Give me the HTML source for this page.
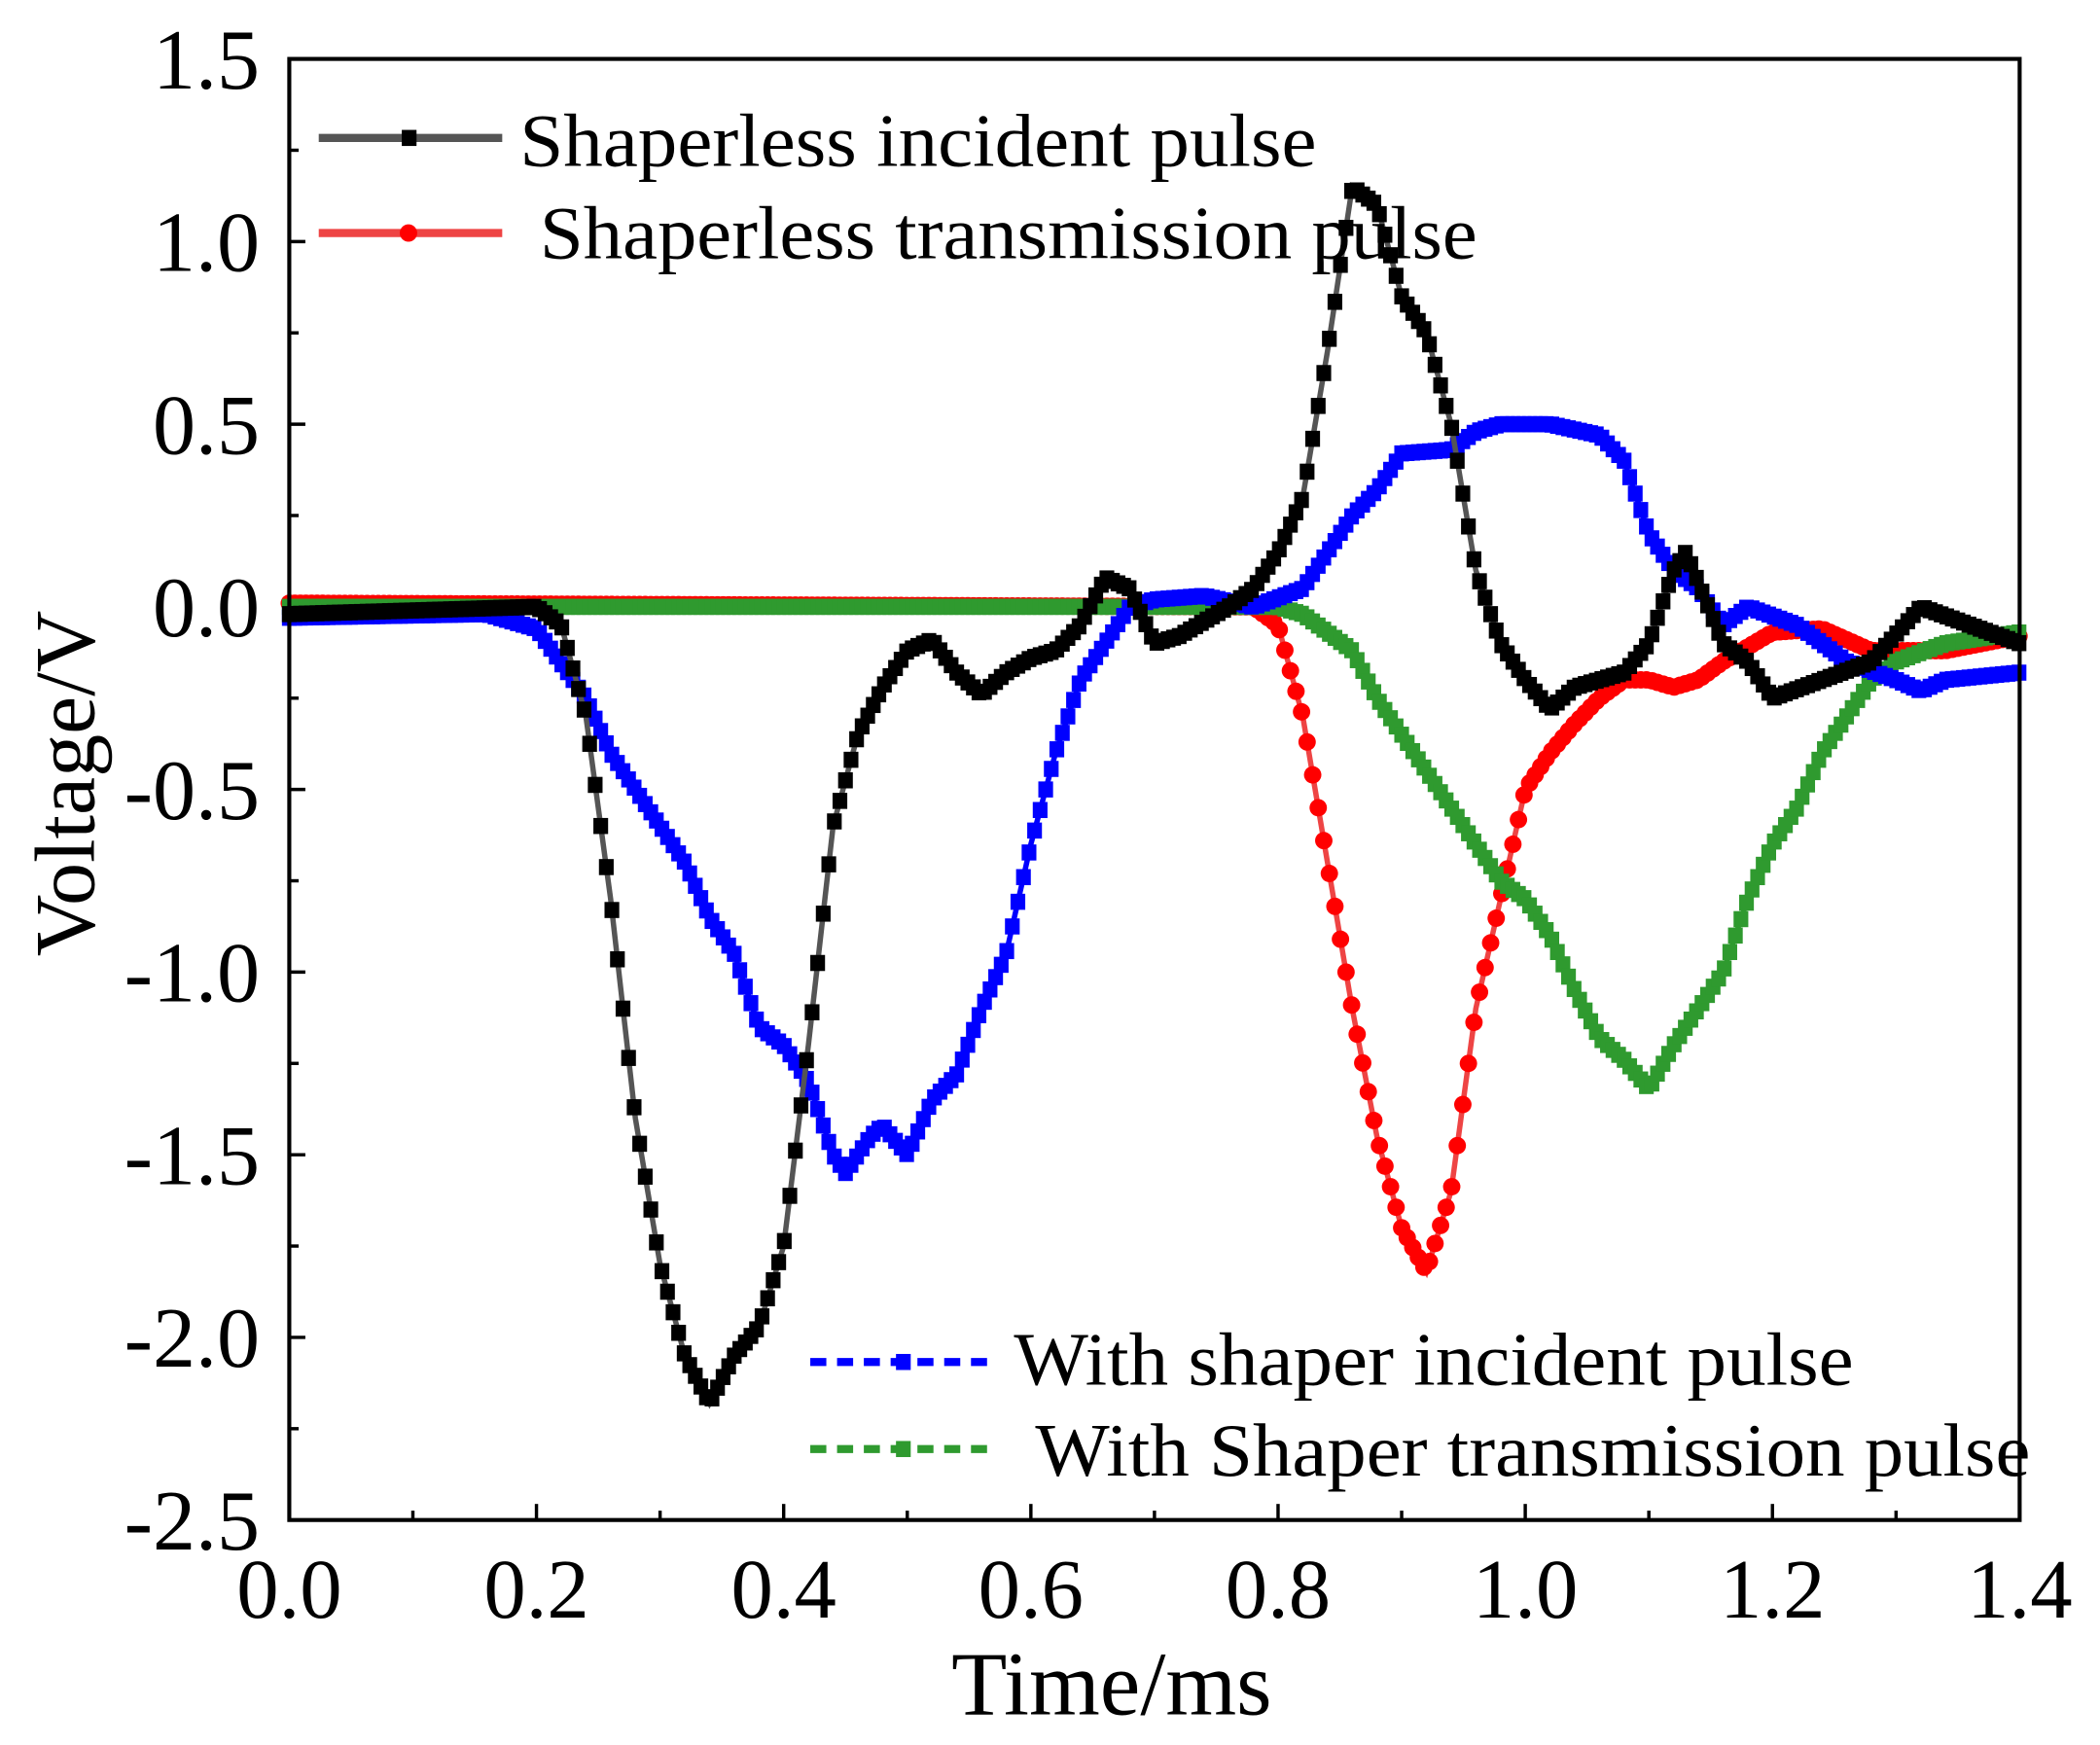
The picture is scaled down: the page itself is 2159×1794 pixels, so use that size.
<!DOCTYPE html>
<html><head><meta charset="utf-8"><style>
html,body{margin:0;padding:0;background:#fff;}
svg{display:block;}
text{font-family:"Liberation Serif","Times New Roman",serif;fill:#000;}
</style></head><body>
<svg id="chart" width="2159" height="1794" viewBox="0 0 1568 1303" preserveAspectRatio="none" xmlns="http://www.w3.org/2000/svg">
<g id="ticks"></g>
<g id="series"></g>
<rect x="216" y="44" width="1292" height="1091" fill="none" stroke="#000" stroke-width="3"/>
<text x="830" y="1280" font-size="68" text-anchor="middle">Time/ms</text>
<text x="0" y="0" font-size="64" text-anchor="middle" transform="translate(70,585) rotate(-90)">Voltage/V</text>
<g>
 <g>
  <line x1="238" y1="103" x2="375" y2="103" stroke="#555" stroke-width="6"/>
  <rect x="300" y="97" width="11" height="12" fill="#000"/>
  <text x="388" y="124" font-size="56" textLength="595" lengthAdjust="spacingAndGlyphs">Shaperless incident pulse</text>
 </g>
 <g>
  <line x1="238" y1="174" x2="375" y2="174" stroke="#ee4444" stroke-width="6"/>
  <circle cx="305" cy="174" r="6.5" fill="#ff0000"/>
  <text x="403" y="193" font-size="56" textLength="700" lengthAdjust="spacingAndGlyphs">Shaperless transmission pulse</text>
 </g>
</g>
<g>
 <g>
  <line x1="605" y1="1017" x2="745" y2="1017" stroke="#0000ff" stroke-width="6" stroke-dasharray="12,8"/>
  <rect x="669" y="1011" width="11" height="12" fill="#0000ff"/>
  <text x="757" y="1034" font-size="56" textLength="627" lengthAdjust="spacingAndGlyphs">With shaper incident pulse</text>
 </g>
 <g>
  <line x1="605" y1="1082" x2="745" y2="1082" stroke="#2f9a2f" stroke-width="6" stroke-dasharray="12,8"/>
  <rect x="669" y="1076" width="11" height="12" fill="#2f9a2f"/>
  <text x="773" y="1102" font-size="56" textLength="743" lengthAdjust="spacingAndGlyphs">With Shaper transmission pulse</text>
 </g>
</g>
</svg>
<script>
const xTicks=[0.0,0.2,0.4,0.6,0.8,1.0,1.2,1.4];
const xTickLabels=["0.0","0.2","0.4","0.6","0.8","1.0","1.2","1.4"];
const yTicks=[1.5,1.0,0.5,0.0,-0.5,-1.0,-1.5,-2.0,-2.5];
const yTickLabels=["1.5","1.0","0.5","0.0","-0.5","-1.0","-1.5","-2.0","-2.5"];
const blackT=[0,0.1,0.2,0.22,0.24,0.26,0.28,0.30,0.32,0.34,0.36,0.38,0.40,0.42,0.44,0.46,0.48,0.50,0.52,0.54,0.56,0.58,0.60,0.62,0.64,0.66,0.68,0.70,0.72,0.74,0.76,0.78,0.80,0.82,0.84,0.86,0.88,0.90,0.92,0.94,0.96,0.98,1.00,1.02,1.04,1.06,1.08,1.10,1.12,1.13,1.16,1.18,1.20,1.24,1.28,1.32,1.36,1.4];
const blackV=[-0.02,-0.01,0,-0.05,-0.3,-0.8,-1.4,-1.8,-2.05,-2.18,-2.05,-1.97,-1.75,-1.2,-0.6,-0.35,-0.22,-0.12,-0.09,-0.18,-0.24,-0.18,-0.14,-0.12,-0.05,0.08,0.05,-0.1,-0.08,-0.04,0.0,0.05,0.15,0.3,0.7,1.15,1.1,0.85,0.75,0.5,0.1,-0.1,-0.2,-0.28,-0.22,-0.2,-0.18,-0.1,0.1,0.15,-0.1,-0.15,-0.25,-0.2,-0.15,0.0,-0.05,-0.1];
const blueT=[0,0.16,0.2,0.24,0.26,0.28,0.30,0.32,0.34,0.36,0.38,0.40,0.42,0.44,0.45,0.47,0.48,0.50,0.52,0.54,0.56,0.58,0.60,0.62,0.64,0.66,0.68,0.70,0.74,0.78,0.82,0.86,0.88,0.90,0.94,0.96,0.98,1.02,1.06,1.08,1.10,1.12,1.14,1.16,1.18,1.22,1.26,1.30,1.32,1.34,1.4];
const blueV=[-0.03,-0.02,-0.06,-0.25,-0.4,-0.5,-0.6,-0.7,-0.85,-0.95,-1.15,-1.2,-1.3,-1.5,-1.55,-1.45,-1.42,-1.5,-1.35,-1.28,-1.1,-0.95,-0.65,-0.4,-0.2,-0.1,0.0,0.02,0.03,0.0,0.05,0.25,0.32,0.42,0.43,0.48,0.5,0.5,0.47,0.4,0.2,0.1,0.05,-0.05,0.0,-0.05,-0.15,-0.2,-0.23,-0.2,-0.18];
const redT=[0,0.78,0.80,0.82,0.84,0.86,0.88,0.90,0.92,0.94,0.96,0.98,1.00,1.02,1.04,1.06,1.08,1.10,1.12,1.14,1.16,1.20,1.24,1.28,1.34,1.4];
const redV=[0.01,0.0,-0.05,-0.3,-0.7,-1.1,-1.45,-1.7,-1.82,-1.6,-1.1,-0.8,-0.5,-0.4,-0.32,-0.25,-0.2,-0.2,-0.22,-0.2,-0.15,-0.07,-0.06,-0.12,-0.12,-0.08];
const greenT=[0,0.8,0.82,0.86,0.88,0.90,0.92,0.94,0.96,0.98,1.00,1.02,1.04,1.06,1.08,1.10,1.12,1.14,1.16,1.18,1.20,1.22,1.24,1.26,1.28,1.30,1.34,1.4];
const greenV=[0.0,0.0,-0.02,-0.12,-0.25,-0.35,-0.45,-0.55,-0.65,-0.75,-0.8,-0.9,-1.05,-1.18,-1.24,-1.32,-1.2,-1.1,-1.0,-0.8,-0.65,-0.55,-0.4,-0.3,-0.2,-0.15,-0.1,-0.07];

const NS="http://www.w3.org/2000/svg";
const X0=216,X1=1508,Y0=44,Y1=1135;
function xs(t){return X0+(t-0)/(1.4-0)*(X1-X0);}
function ys(v){return Y0+(1.5-v)/(1.5+2.5)*(Y1-Y0);}
const ticks=document.getElementById('ticks');
function mk(tag,attrs,parent){const e=document.createElementNS(NS,tag);for(const k in attrs)e.setAttribute(k,attrs[k]);parent.appendChild(e);return e;}
for(let i=0;i<xTicks.length;i++){
  const x=xs(xTicks[i]);
  const tk=mk('line',{x1:x,y1:Y1,x2:x,y2:Y1-12,stroke:'#000','stroke-width':2.5},ticks);
  
  
  const lb=mk('text',{x:x,y:1208,'font-size':63,'text-anchor':'middle'},ticks);
  lb.textContent=xTickLabels[i];
  
  
  if(i<xTicks.length-1){
    const xm=xs(xTicks[i]+0.1);
    const mn=mk('line',{x1:xm,y1:Y1,x2:xm,y2:Y1-7,stroke:'#000','stroke-width':2.5},ticks);
    
    
  }
}
for(let i=0;i<yTicks.length;i++){
  const y=ys(yTicks[i]);
  const tk=mk('line',{x1:X0,y1:y,x2:X0+12,y2:y,stroke:'#000','stroke-width':2.5},ticks);
  
  
  const lb=mk('text',{x:194,y:y+22,'font-size':64,'text-anchor':'end'},ticks);
  lb.textContent=yTickLabels[i];
  
  
  if(i<yTicks.length-1){
    const ym=ys(yTicks[i]-0.25);
    const mn=mk('line',{x1:X0,y1:ym,x2:X0+7,y2:ym,stroke:'#000','stroke-width':2.5},ticks);
    
    
  }
}
const series=document.getElementById('series');
function interp(T,V,t){for(let i=0;i<T.length-1;i++){if(t>=T[i]&&t<=T[i+1]){const f=(t-T[i])/(T[i+1]-T[i]);return V[i]+f*(V[i+1]-V[i]);}}return V[V.length-1];}
function draw(T,V,lineColor,markColor,shape,name){
  const g=mk('g',{},series);
  
  
  const pts=T.map((t,i)=>xs(t)+','+ys(V[i])).join(' ');
  const pl=mk('polyline',{points:pts,fill:'none',stroke:lineColor,'stroke-width':4},g);
  
  
  for(let t=0;t<=1.4+1e-9;t+=0.0045){
    const x=xs(t),y=ys(interp(T,V,t));
    let m;
    if(shape==='circle'){m=mk('circle',{cx:x,cy:y,r:6.5,fill:markColor},g);}
    else{m=mk('rect',{x:x-5.5,y:y-6,width:11,height:12,fill:markColor},g);}
    
    
  }
}
draw(redT,redV,'#ee4444','#ff0000','circle','shaperless-transmission-series');
draw(greenT,greenV,'#2f9a2f','#2f9a2f','square','shaper-transmission-series');
draw(blueT,blueV,'#0000ff','#0000ff','square','shaper-incident-series');
draw(blackT,blackV,'#555','#000','square','shaperless-incident-series');
</script>
</body></html>
